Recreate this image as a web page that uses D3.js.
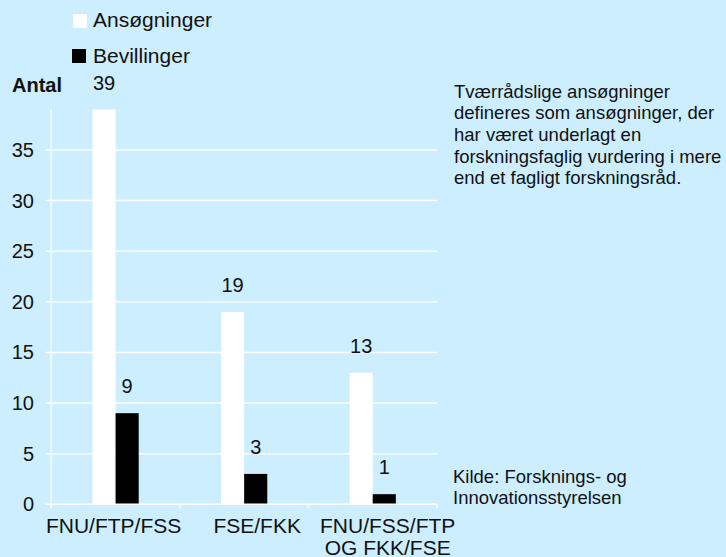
<!DOCTYPE html>
<html>
<head>
<meta charset="utf-8">
<script src="https://cdn.jsdelivr.net/npm/d3@7"></script>
<style>
  body { margin: 0; background: #cceeff; }
  svg { display: block; font-family: Arial, "Liberation Sans", sans-serif; }
</style>
</head>
<body>
<div id="chart"></div>
<script>
// data
const categories = [["FNU/FTP/FSS"], ["FSE/FKK"], ["FNU/FSS/FTP", "OG FKK/FSE"]];
const series = ["Ansøgninger", "Bevillinger"];
const ansoegninger = [39, 19, 13];
const bevillinger = [9, 3, 1];
const yTicks = [0, 5, 10, 15, 20, 25, 30, 35];
const note = [
  "Tværrådslige ansøgninger",
  "defineres som ansøgninger, der",
  "har været underlagt en",
  "forskningsfaglig vurdering i mere",
  "end et fagligt forskningsråd."
];
const source = ["Kilde: Forsknings- og", "Innovationsstyrelsen"];

const width = 726, height = 557;
const plot = { left: 51.3, right: 437, top: 150, bottom: 504.3 };
const colors = { "Ansøgninger": "#ffffff", "Bevillinger": "#000000" };
// small nudges so category labels sit where the original put them
const labelNudge = [-2, 13, 15];

const svg = d3.select("#chart").append("svg")
  .attr("width", width)
  .attr("height", height);

svg.append("rect")
  .attr("width", width).attr("height", height)
  .attr("fill", "#cceeff");

const x0 = d3.scaleBand()
  .domain(d3.range(categories.length))
  .range([plot.left, plot.right])
  .padding(0);

const x1 = d3.scaleBand()
  .domain(series)
  .range([0, x0.bandwidth()])
  .paddingInner(0)
  .paddingOuter(1.78);

const y = d3.scaleLinear()
  .domain([0, 35])
  .range([plot.bottom, plot.top]);

// gridlines + y labels
const grid = svg.append("g");
grid.selectAll("line")
  .data(yTicks.filter(d => d > 0))
  .join("line")
  .attr("x1", plot.left - 6)
  .attr("x2", plot.right)
  .attr("y1", d => y(d))
  .attr("y2", d => y(d))
  .attr("stroke", "#fff")
  .attr("stroke-width", 1.5);

grid.selectAll("text")
  .data(yTicks)
  .join("text")
  .attr("x", 34)
  .attr("y", d => y(d) + 7)
  .attr("text-anchor", "end")
  .attr("font-size", 20)
  .attr("fill", "#111")
  .text(d => d);

// y axis line
svg.append("line")
  .attr("x1", plot.left).attr("x2", plot.left)
  .attr("y1", y(39)).attr("y2", plot.bottom)
  .attr("stroke", "#fff").attr("stroke-width", 1.5);

// bars
const rows = categories.map((c, i) => ({
  i: i,
  values: [
    { key: series[0], value: ansoegninger[i] },
    { key: series[1], value: bevillinger[i] }
  ]
}));

const groups = svg.append("g").selectAll("g")
  .data(rows)
  .join("g")
  .attr("transform", d => `translate(${x0(d.i)},0)`);

groups.selectAll("rect")
  .data(d => d.values)
  .join("rect")
  .attr("x", d => x1(d.key))
  .attr("y", d => y(d.value))
  .attr("width", x1.bandwidth())
  .attr("height", d => y(0) - y(d.value))
  .attr("fill", d => colors[d.key]);

groups.selectAll("text")
  .data(d => d.values)
  .join("text")
  .attr("x", d => x1(d.key) + x1.bandwidth() / 2)
  .attr("y", d => y(d.value) - 20)
  .attr("text-anchor", "middle")
  .attr("font-size", 20)
  .attr("fill", "#111")
  .text(d => d.value);

// x axis line and ticks
svg.append("line")
  .attr("x1", plot.left - 6).attr("x2", plot.right)
  .attr("y1", plot.bottom).attr("y2", plot.bottom)
  .attr("stroke", "#fff").attr("stroke-width", 1.5);

svg.append("g").selectAll("line")
  .data(d3.range(categories.length + 1))
  .join("line")
  .attr("x1", d => x0.step() * d + plot.left)
  .attr("x2", d => x0.step() * d + plot.left)
  .attr("y1", plot.bottom)
  .attr("y2", plot.bottom + 4)
  .attr("stroke", "#fff").attr("stroke-width", 1.5);

// category labels
svg.append("g").selectAll("text")
  .data(categories)
  .join("text")
  .attr("x", (d, i) => x0(i) + x0.bandwidth() / 2 + labelNudge[i])
  .attr("y", 533)
  .attr("text-anchor", "middle")
  .attr("font-size", 21)
  .attr("fill", "#111")
  .selectAll("tspan")
  .data(d => d)
  .join("tspan")
  .attr("x", function () { return d3.select(this.parentNode).attr("x"); })
  .attr("dy", (d, j) => j === 0 ? 0 : 22)
  .text(d => d);

// legend
const legend = svg.append("g");
legend.append("rect").attr("x", 73).attr("y", 14).attr("width", 14).attr("height", 14)
  .attr("fill", colors[series[0]]);
legend.append("rect").attr("x", 72).attr("y", 49).attr("width", 14).attr("height", 14)
  .attr("fill", colors[series[1]]);
legend.selectAll("text")
  .data(series)
  .join("text")
  .attr("x", 93)
  .attr("y", (d, i) => i === 0 ? 27 : 62.5)
  .attr("font-size", 21)
  .attr("fill", "#111")
  .text(d => d);

// axis title
svg.append("text")
  .attr("x", 12).attr("y", 92)
  .attr("font-size", 20)
  .attr("font-weight", "bold")
  .attr("fill", "#111")
  .text("Antal");

// side notes
svg.append("g").selectAll("text")
  .data(note)
  .join("text")
  .attr("x", 454)
  .attr("y", (d, i) => 97.5 + i * 21.7)
  .attr("font-size", 18.5)
  .attr("fill", "#111")
  .text(d => d);

svg.append("g").selectAll("text")
  .data(source)
  .join("text")
  .attr("x", 453)
  .attr("y", (d, i) => 482.5 + i * 21.7)
  .attr("font-size", 18.5)
  .attr("fill", "#111")
  .text(d => d);
</script>
</body>
</html>
